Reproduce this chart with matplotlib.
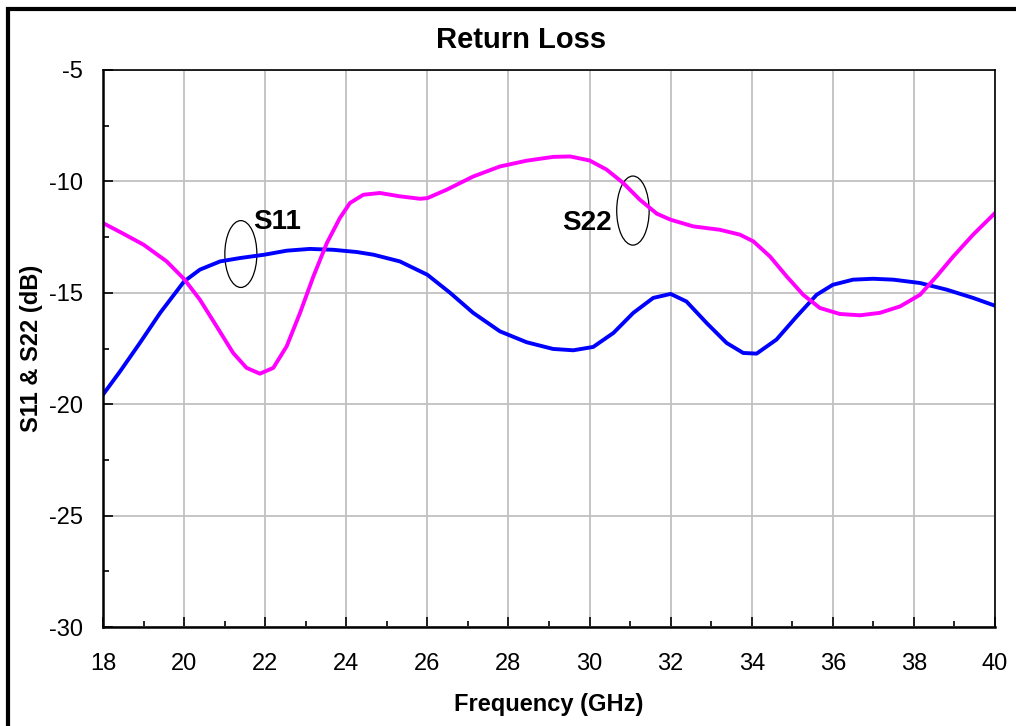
import numpy as np
import matplotlib
matplotlib.use('Agg')
import matplotlib.pyplot as plt
from matplotlib.patches import Ellipse, Rectangle

plt.rcParams['font.family'] = ['Liberation Sans', 'DejaVu Sans']
plt.rcParams['axes.unicode_minus'] = False

# S22 (magenta)
f_s22 = [18.0, 18.42, 19.0, 19.57, 20.0, 20.39, 20.8, 21.21, 21.54, 21.87, 22.2, 22.53, 22.86,
         23.19, 23.52, 23.84, 24.09, 24.42, 24.83, 25.32, 25.82, 26.0, 26.48, 27.13, 27.79,
         28.45, 29.1, 29.52, 30.0, 30.42, 30.83, 31.24, 31.66, 32.0, 32.56, 33.21, 33.71,
         34.04, 34.45, 34.86, 35.27, 35.68, 36.17, 36.67, 37.16, 37.66, 38.15, 38.56, 38.97,
         39.46, 40.0]
s22 = [-11.87, -12.27, -12.84, -13.59, -14.38, -15.31, -16.5, -17.7, -18.37, -18.63, -18.37,
       -17.4, -15.9, -14.26, -12.77, -11.65, -10.97, -10.6, -10.52, -10.67, -10.78, -10.75,
       -10.37, -9.78, -9.33, -9.07, -8.9, -8.88, -9.06, -9.47, -10.07, -10.82, -11.45, -11.72,
       -12.02, -12.17, -12.39, -12.69, -13.37, -14.26, -15.09, -15.68, -15.95, -16.01, -15.9,
       -15.61, -15.09, -14.26, -13.37, -12.39, -11.42]

# S11 (blue)
f_s11 = [18.0, 18.42, 18.91, 19.41, 20.0, 20.39, 20.89, 21.38, 21.98, 22.53, 23.1, 23.68, 24.26,
         24.67, 25.32, 26.0, 26.56, 27.13, 27.79, 28.45, 29.1, 29.6, 30.09, 30.59, 31.08, 31.57,
         32.0, 32.39, 32.89, 33.38, 33.79, 34.12, 34.61, 35.11, 35.6, 36.0, 36.5, 36.99, 37.49,
         38.15, 38.81, 39.46, 40.0]
s11 = [-19.57, -18.53, -17.25, -15.9, -14.49, -13.96, -13.59, -13.44, -13.29, -13.11, -13.03,
       -13.07, -13.17, -13.29, -13.59, -14.19, -15.0, -15.9, -16.73, -17.22, -17.52, -17.58,
       -17.43, -16.8, -15.9, -15.23, -15.05, -15.39, -16.36, -17.25, -17.7, -17.73, -17.1,
       -16.06, -15.09, -14.64, -14.41, -14.37, -14.41, -14.56, -14.86, -15.23, -15.58]

fig = plt.figure(figsize=(10.16, 7.26), dpi=100)
ax = fig.add_axes([103/1016, 1 - 627/726, 892/1016, 557/726])

ax.plot(f_s11, s11, color='#0000FF', lw=2.8, solid_joinstyle='round', solid_capstyle='round')
ax.plot(f_s22, s22, color='#FF00FF', lw=2.8, solid_joinstyle='round', solid_capstyle='round')

ax.set_xlim(18, 40)
ax.set_ylim(-30, -5)
ax.set_xticks(np.arange(18, 41, 2))
ax.set_xticks(np.arange(19, 40, 2), minor=True)
ax.set_yticks(np.arange(-30, -4, 5))
ax.set_yticks(np.arange(-27.5, -5, 5), minor=True)
ax.tick_params(which='both', direction='in', labelsize=17, color='black')
ax.tick_params(which='major', length=7, width=1.2)
ax.tick_params(which='minor', length=4, width=1.2)
ax.tick_params(axis='x', pad=18.5)
ax.tick_params(axis='y', pad=14.5)
ax.grid(True, which='major', color='#c0c0c0', lw=1.3)
ax.set_axisbelow(True)
for side in ['left', 'bottom']:
    ax.spines[side].set_linewidth(1.8)
for side in ['top', 'right']:
    ax.spines[side].set_linewidth(1.2)

fig.text(521.5/1016, 1 - 40/726, 'Return Loss', fontsize=21, fontweight='bold',
         ha='center', va='center')
ax.set_xlabel('Frequency (GHz)', fontsize=17, fontweight='bold', va='center')
ax.xaxis.set_label_coords(0.5, (627 - 705) / 557)
ax.set_ylabel('S11 & S22 (dB)', fontsize=17, fontweight='bold', va='center')
ax.yaxis.set_label_coords((32 - 103) / 892, 0.5)

# annotation ellipses
ax.add_patch(Ellipse((21.40, -13.26), 0.79, 3.0, fill=False, ec='black', lw=0.9))
ax.add_patch(Ellipse((31.07, -11.31), 0.80, 3.1, fill=False, ec='black', lw=0.9))
ax.text(21.7, -11.81, 'S11', fontsize=20, fontweight='bold', ha='left', va='center')
ax.text(30.55, -11.87, 'S22', fontsize=20, fontweight='bold', ha='right', va='center')

# outer frame
fig.patches.append(Rectangle((8/1016, -0.05), 1.1, 1 - 8.5/726 + 0.05,
                             transform=fig.transFigure, fill=False, ec='black', lw=3))

fig.savefig('out.png', dpi=100)
